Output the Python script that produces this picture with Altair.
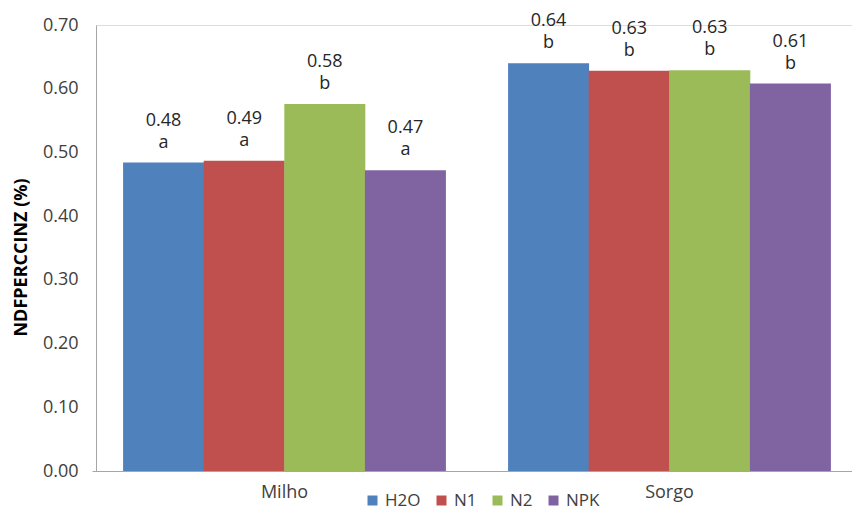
import altair as alt
import pandas as pd

# Crop groups, treatments and measured NDF values
crops = ["Milho", "Sorgo"]
treatments = ["H2O", "N1", "N2", "NPK"]
milho_values = [0.484, 0.487, 0.576, 0.472]
sorgo_values = [0.640, 0.628, 0.629, 0.608]
milho_letters = ["a", "a", "b", "a"]
sorgo_letters = ["b", "b", "b", "b"]
colors = ["#4F81BD", "#C0504D", "#9BBB59", "#8064A2"]

rows = []
for crop, vals, lets in [("Milho", milho_values, milho_letters),
                         ("Sorgo", sorgo_values, sorgo_letters)]:
    for t, v, l in zip(treatments, vals, lets):
        rows.append({"crop": crop, "treatment": t, "value": v, "letter": l})
df = pd.DataFrame(rows)

FONT = "Open Sans"
W, H = 756, 446

x_enc = alt.X("crop:N", sort=crops,
              scale=alt.Scale(range=[-4, 766], paddingInner=0, paddingOuter=0),
              axis=alt.Axis(title=None, labelAngle=0, ticks=False, labelPadding=12,
                            labelFontSize=18, labelColor="#404040", labelFont=FONT,
                            domainColor="#a6a6a6", domainWidth=1))
xoff = alt.XOffset("treatment:N", sort=treatments,
                   scale=alt.Scale(paddingInner=0, paddingOuter=0.388))
y_enc = alt.Y("value:Q",
              scale=alt.Scale(domain=[0, 0.7], nice=False),
              axis=alt.Axis(title="NDFPERCCINZ (%)", values=[0, 0.1, 0.2, 0.3, 0.4, 0.5, 0.6, 0.7],
                            format=".2f", grid=False, ticks=False, labelPadding=18,
                            labelFontSize=18, labelColor="#404040", labelFont=FONT,
                            domainColor="#a6a6a6", domainWidth=1,
                            titleFont=FONT, titleFontSize=18, titleFontWeight="bold",
                            titleColor="#000000", titleX=-75, titleY=232,
                            titleAngle=270, titleAlign="center", titleBaseline="middle"))

bars = alt.Chart(df).mark_bar(size=81).encode(
    x=x_enc, xOffset=xoff, y=y_enc,
    color=alt.Color("treatment:N", sort=treatments,
                    scale=alt.Scale(domain=treatments, range=colors),
                    legend=alt.Legend(title=None, orient="none", direction="horizontal",
                                      legendX=268, legendY=467, symbolType="square",
                                      symbolSize=100, symbolStrokeWidth=0, labelOffset=4,
                                      columnPadding=12, padding=0, gridAlign="none",
                                      labelFontSize=17, labelFont=FONT, labelColor="#404040")),
)

value_text = alt.Chart(df).mark_text(dy=-37, baseline="alphabetic", fontSize=18,
                                     font=FONT, color="#262626").encode(
    x=alt.X("crop:N", sort=crops), xOffset=xoff, y="value:Q",
    text=alt.Text("value:Q", format=".2f"),
)
letter_text = alt.Chart(df).mark_text(dy=-15, baseline="alphabetic", fontSize=18,
                                      font=FONT, color="#262626").encode(
    x=alt.X("crop:N", sort=crops), xOffset=xoff, y="value:Q",
    text="letter:N",
)

chart = alt.layer(bars, value_text, letter_text).properties(
    width=W, height=H,
    padding={"left": 96, "top": 25, "right": 0, "bottom": 40},
    autosize=alt.AutoSizeParams(type="none"),
).configure_view(stroke=None).configure(background="white")

chart.save("out.html", embed_options={"renderer": "svg", "actions": False})
